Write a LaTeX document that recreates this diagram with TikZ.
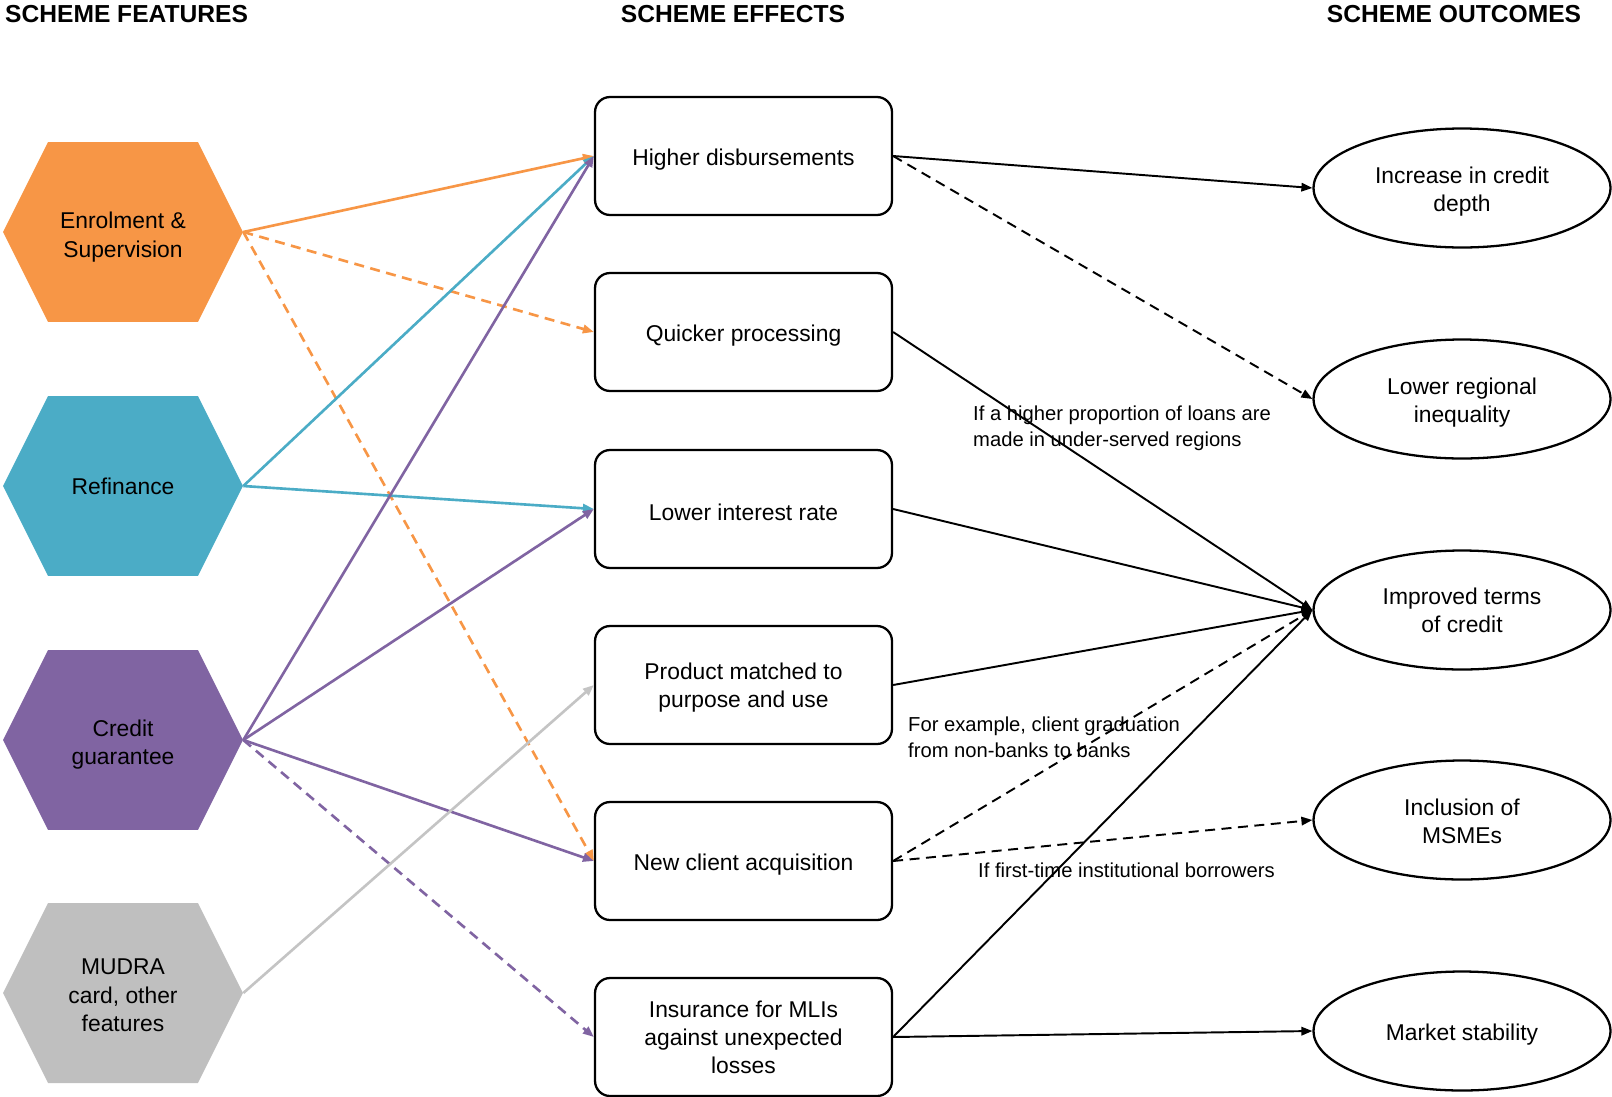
\documentclass[tikz,border=0pt]{standalone}
\usepackage{fontspec}
\setmainfont{Liberation Sans}
\usetikzlibrary{positioning,arrows.meta,calc,shapes.geometric}
\newcommand{\tstrut}[1]{\rule{0pt}{#1}}

\begin{document}
\begin{tikzpicture}[x=0.02cm, y=-0.02cm,
  font=\fontsize{13pt}{16pt}\selectfont,
  hexa/.style={minimum width=4.8cm, minimum height=3.6cm, inner sep=0pt, align=center,
    path picture={\fill[#1] (path picture bounding box.west) -- ++(0.9cm,1.8cm) -- ++(3cm,0)
      -- ++(0.9cm,-1.8cm) -- ++(-0.9cm,-1.8cm) -- ++(-3cm,0) -- cycle;}},
  effbox/.style={draw, line width=1.3pt, rounded corners=0.3cm, minimum width=5.94cm,
    minimum height=2.36cm, align=center},
  outc/.style={draw, ellipse, line width=1.3pt, minimum width=5.94cm, minimum height=2.38cm,
    inner sep=0pt, align=center},
  arr/.style={line width=1.1pt, -{Triangle[length=0.22cm,width=0.17cm]}},
  dsh/.style={dash pattern=on 0.2cm off 0.13cm},
  note/.style={font=\fontsize{11.5pt}{14.8pt}\selectfont, align=left, anchor=west}]
\definecolor{corange}{HTML}{F79646}
\definecolor{cteal}{HTML}{4BACC6}
\definecolor{cpurple}{HTML}{8064A2}
\definecolor{cgrey}{HTML}{C4C4C4}
\definecolor{cgreyfill}{HTML}{BFBFBF}
\useasboundingbox (0,0) rectangle (1612,1096);
% column titles
\node[font=\fontsize{14pt}{16pt}\bfseries, anchor=west] (tf) at (-1,14) {SCHEME FEATURES};
\node[font=\fontsize{14pt}{16pt}\bfseries] (te) at (733,14) {SCHEME EFFECTS};
\node[font=\fontsize{14pt}{16pt}\bfseries] (to) at (1454,14) {SCHEME OUTCOMES};
% scheme features
\node[hexa=corange] (enr) at (123,232) {\tstrut{15.2pt}Enrolment \&\\Supervision};
\node[hexa=cteal] (ref) at (123,486) {Refinance};
\node[hexa=cpurple] (cg) at (123,740) {\tstrut{14.5pt}Credit\\guarantee};
\node[hexa=cgreyfill] (mud) at (123,993) {\tstrut{11.5pt}MUDRA\\card, other\\features};
% scheme effects
\foreach \n/\y/\h/\lab in {hd/156/13/{Higher disbursements}, qp/332/13/{Quicker processing},
  lir/509/13/{Lower interest rate}, pm/685/12/{Product matched to\\purpose and use},
  nca/861/13/{New client acquisition}, ins/1037/0/{Insurance for MLIs\\against unexpected\\losses}} {
  \node[effbox] (\n) at (743.5,\y) {\tstrut{\h pt}\lab};
}
% scheme outcomes
\foreach \n/\y/\h/\lab in {icd/188/14/{Increase in credit\\depth}, lri/399/13.5/{Lower regional\\inequality},
  itc/610/0/{Improved terms\\of credit}, inc/820/10.5/{Inclusion of\\MSMEs}, ms/1031/13/{Market stability}} {
  \node[outc] (\n) at (1462,\y) {\tstrut{\h pt}\lab};
}
% features -> effects
\foreach \a/\b/\c/\s in {enr/hd/corange/solid, enr/qp/corange/dsh, enr/nca/corange/dsh,
  ref/hd/cteal/solid, ref/lir/cteal/solid, cg/hd/cpurple/solid, cg/lir/cpurple/solid,
  cg/nca/cpurple/solid, cg/ins/cpurple/dsh, mud/pm/cgrey/solid} {
  \draw[arr, line width=1.5pt, \c, \s] (\a.east) -- (\b.west);
}
% effects -> outcomes
\foreach \a/\b/\s in {hd/icd/solid, hd/lri/dsh, qp/itc/solid, lir/itc/solid, pm/itc/solid,
  nca/itc/dsh, nca/inc/dsh, ins/itc/solid, ins/ms/solid} {
  \draw[arr, \s] (\a.east) -- (\b.west);
}
% conditions
\node[note] (n1) at (967,428) {If a higher proportion of loans are\\made in under-served regions};
\node[note] (n2) at (902,737) {For example, client graduation\\from non-banks to banks};
\node[note] (n3) at (972,870) {If first-time institutional borrowers};
\end{tikzpicture}
\end{document}
